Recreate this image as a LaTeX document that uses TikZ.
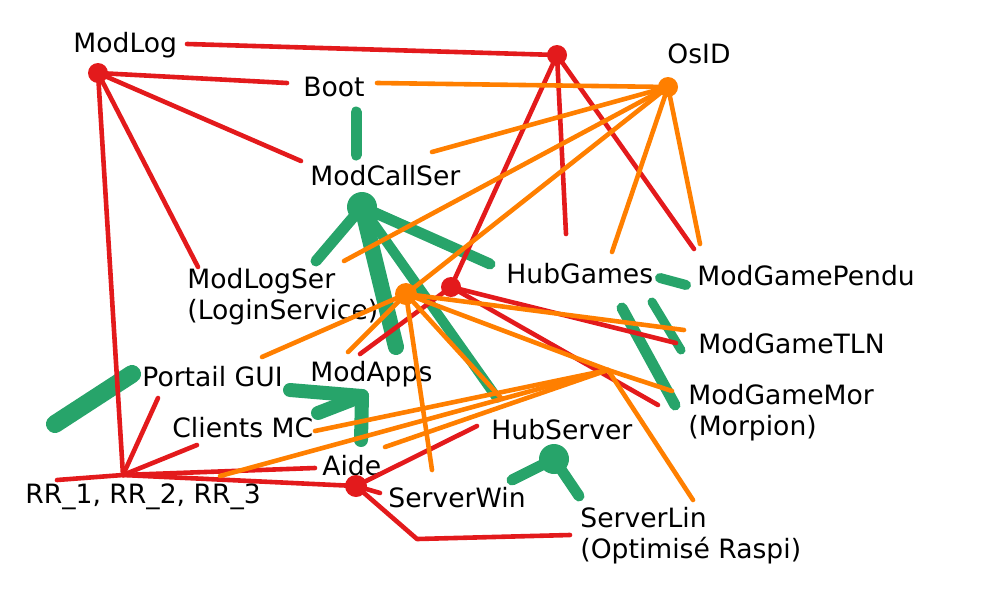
\documentclass[tikz,border=0pt]{standalone}
\usepackage{fontspec}
\setmainfont{DejaVu Sans}
\definecolor{hRed}{RGB}{227,26,28}
\definecolor{hOrange}{RGB}{255,127,0}
\definecolor{hGreen}{RGB}{39,164,106}
\begin{document}
\begin{tikzpicture}
  [x=0.5pt,y=-0.5pt,
   lblN/.style={anchor=base west,inner sep=0pt,align=left,
     font=\fontsize{13.3}{15.5}\selectfont},
   dotN/.style={circle,inner sep=0pt,minimum size=#1},
   redE/.style={draw=hRed,line width=2.3pt,line cap=round,line join=round},
   oraE/.style={draw=hOrange,line width=2.3pt,line cap=round},
   greE/.style={draw=hGreen,line width=#1,line cap=round,line join=round},
   greE/.default=5.5pt,
  ]

 \path[use as bounding box] (0,0) rectangle (1000,600);

 % labels
 \node[lblN] (modLog) at (73,52) {ModLog};
 \node[lblN] (boot) at (303,96) {Boot};
 \node[lblN] (modCallSer) at (310,185) {ModCallSer};
 \node[lblN] (modLogSer) at (187,319) {ModLogSer\\(LoginService)};
 \node[lblN] (osID) at (667,63) {OsID};
 \node[lblN] (hubGames) at (506,283) {HubGames};
 \node[lblN] (pendu) at (697,285) {ModGamePendu};
 \node[lblN] (tln) at (698,353) {ModGameTLN};
 \node[lblN] (morpion) at (688,435) {ModGameMor\\(Morpion)};
 \node[lblN] (portail) at (142,386) {Portail GUI};
 \node[lblN] (modApps) at (310,381) {ModApps};
 \node[lblN] (clients) at (172,437) {Clients MC};
 \node[lblN] (hubServer) at (491,439) {HubServer};
 \node[lblN] (aide) at (322,475) {Aide};
 \node[lblN] (rr) at (25,503) {RR\_1, RR\_2, RR\_3};
 \node[lblN] (serverWin) at (388,507) {ServerWin};
 \node[lblN] (serverLin) at (580,558) {ServerLin\\(Optimisé Raspi)};

 % hubs
 \coordinate (dLog) at (98,73);
 \coordinate (dTop) at (557,55);
 \coordinate (dMid) at (451,287);
 \coordinate (dRR) at (123,475);
 \coordinate (dAide) at (356,486);
 \coordinate (dOs) at (668,87);
 \coordinate (dOr) at (406,294);
 \coordinate (jOr) at (608,370);
 \coordinate (dCall) at (362,207);
 \coordinate (dSrv) at (554,459);
 \coordinate (dArr) at (362,396);

 % free ends
 \coordinate (rLog) at (187,44);
 \coordinate (rBoot) at (287,83);
 \coordinate (rCall) at (301,161);
 \coordinate (rLogSer) at (198,267);
 \coordinate (rHubG) at (566,234);
 \coordinate (rPendu) at (694,249);
 \coordinate (rApps) at (360,354);
 \coordinate (rTLN) at (676,343);
 \coordinate (rMor) at (658,405);
 \coordinate (rPortail) at (158,398);
 \coordinate (rClients) at (197,445);
 \coordinate (rRR) at (57,480);
 \coordinate (rAide) at (315,468);
 \coordinate (rHubS) at (477,426);
 \coordinate (rWin) at (380,493);
 \coordinate (rBend) at (417,539);
 \coordinate (rLin) at (570,535);
 \coordinate (oBoot) at (377,83);
 \coordinate (oCall) at (432,152);
 \coordinate (oLogSer) at (344,261);
 \coordinate (oHubG) at (612,252);
 \coordinate (oPendu) at (700,244);
 \coordinate (oPortail) at (262,357);
 \coordinate (oApps) at (348,352);
 \coordinate (oWin) at (432,470);
 \coordinate (oTLN) at (684,330);
 \coordinate (oMor) at (672,391);
 \coordinate (oHubS) at (502,399);
 \coordinate (oClients) at (315,431);
 \coordinate (oAide) at (385,447);
 \coordinate (oRR) at (220,476);
 \coordinate (oLin) at (693,500);
 \coordinate (gBootT) at (356,112);
 \coordinate (gBootB) at (356,155);
 \coordinate (gLogSer) at (316,261);
 \coordinate (gApps) at (396,347);
 \coordinate (gHubG) at (490,264);
 \coordinate (gHubS) at (497,398);
 \coordinate (gPenduA) at (660,278);
 \coordinate (gPenduB) at (686,285);
 \coordinate (gMorA) at (622,308);
 \coordinate (gMorB) at (675,405);
 \coordinate (gTLNA) at (652,302);
 \coordinate (gTLNB) at (681,350);
 \coordinate (gPortA) at (55,424);
 \coordinate (gPortB) at (132,374);
 \coordinate (gArrA) at (290,390);
 \coordinate (gArrB) at (361,440);
 \coordinate (gArrD) at (318,413);
 \coordinate (gWin) at (512,480);
 \coordinate (gLin) at (579,496);

 % green edges
 \draw[greE] (gBootT) -- (gBootB);
 \draw[greE] (dCall) -- (gLogSer);
 \draw[greE=8pt] (dCall) -- (gApps);
 \draw[greE] (dCall) -- (gHubG);
 \draw[greE=5pt] (dCall) -- (gHubS);
 \draw[greE=5pt] (gPenduA) -- (gPenduB);
 \draw[greE] (gMorA) -- (gMorB);
 \draw[greE=4.5pt] (gTLNA) -- (gTLNB);
 \draw[greE=9pt] (gPortA) -- (gPortB);
 \draw[greE=7pt] (gArrA) -- (dArr) -- (gArrB);
 \draw[greE=7pt] (gArrD) -- (dArr);
 \draw[greE] (gWin) -- (dSrv) -- (gLin);
 \node[dotN=15pt,fill=hGreen] (callDot) at (dCall) {};
 \node[dotN=15pt,fill=hGreen] (srvDot) at (dSrv) {};

 % red edges
 \foreach \e in {rBoot,rCall,rLogSer,dRR}
   \draw[redE] (dLog) -- (\e);
 \foreach \e in {rLog,rHubG,rPendu,dMid}
   \draw[redE] (dTop) -- (\e);
 \foreach \e in {rApps,rTLN,rMor}
   \draw[redE] (dMid) -- (\e);
 \foreach \e in {rPortail,rClients,rRR,rAide,dAide}
   \draw[redE] (dRR) -- (\e);
 \draw[redE] (dAide) -- (rHubS);
 \draw[redE] (dAide) -- (rWin);
 \draw[redE] (dAide) -- (rBend) -- (rLin);
 \foreach \d in {dLog,dTop,dMid}
   \node[dotN=10pt,fill=hRed] at (\d) {};
 \node[dotN=11pt,fill=hRed] (aideDot) at (dAide) {};

 % orange edges
 \foreach \e in {oBoot,oCall,oLogSer,dOr,oHubG,oPendu}
   \draw[oraE] (dOs) -- (\e);
 \foreach \e in {oPortail,oApps,oWin,oTLN,oHubS,jOr}
   \draw[oraE] (dOr) -- (\e);
 \foreach \e in {oMor,oClients,oAide,oRR,oLin}
   \draw[oraE] (jOr) -- (\e);
 \node[dotN=10pt,fill=hOrange] (osDot) at (dOs) {};
 \node[dotN=11pt,fill=hOrange] (orDot) at (dOr) {};
\end{tikzpicture}
\end{document}
